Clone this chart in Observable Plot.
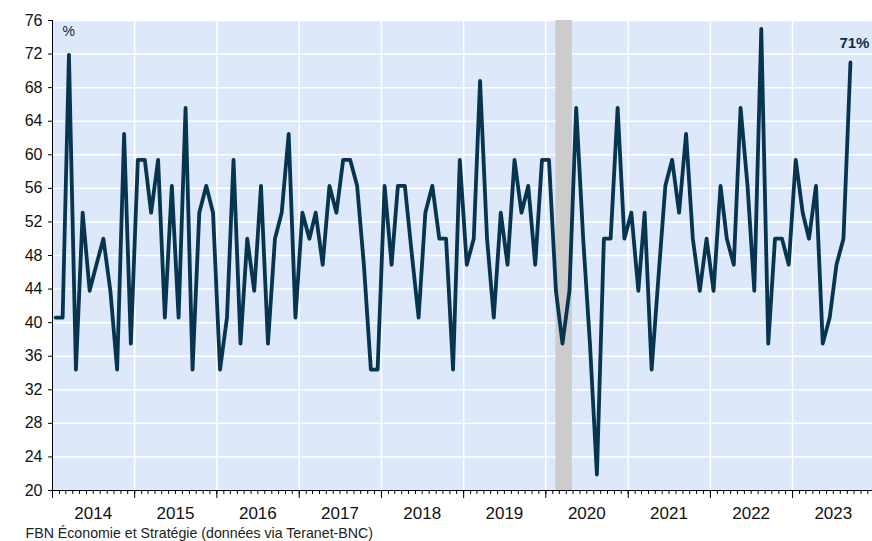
<!DOCTYPE html>
<html><head><meta charset="utf-8">
<script src="https://cdn.jsdelivr.net/npm/d3@7"></script>
<script src="https://cdn.jsdelivr.net/npm/@observablehq/plot@0.6"></script>
<style>body{margin:0;background:#fff} svg{display:block}</style>
</head><body><div id="chart"></div>
<script>
// Monthly series, Jan 2014 – Sep 2023 (% of markets)
const startYear = 2014;
const values = [
  40.6, 40.6, 71.9, 34.4, 53.1, 43.8, 46.9, 50.0, 43.8, 34.4, 62.5, 37.5,
  59.4, 59.4, 53.1, 59.4, 40.6, 56.3, 40.6, 65.6, 34.4, 53.1, 56.3, 53.1,
  34.4, 40.6, 59.4, 37.5, 50.0, 43.8, 56.3, 37.5, 50.0, 53.1, 62.5, 40.6,
  53.1, 50.0, 53.1, 46.9, 56.3, 53.1, 59.4, 59.4, 56.3, 46.9, 34.4, 34.4,
  56.3, 46.9, 56.3, 56.3, 48.4, 40.6, 53.1, 56.3, 50.0, 50.0, 34.4, 59.4,
  46.9, 50.0, 68.8, 50.0, 40.6, 53.1, 46.9, 59.4, 53.1, 56.3, 46.9, 59.4,
  59.4, 43.8, 37.5, 43.8, 65.6, 50.0, 37.5, 21.9, 50.0, 50.0, 65.6, 50.0,
  53.1, 43.8, 53.1, 34.4, 45.3, 56.3, 59.4, 53.1, 62.5, 50.0, 43.8, 50.0,
  43.8, 56.3, 50.0, 46.9, 65.6, 56.3, 43.8, 75.0, 37.5, 50.0, 50.0, 46.9,
  59.4, 53.1, 50.0, 56.3, 37.5, 40.6, 46.9, 50.0, 71.0
];
const yTicks = [20, 24, 28, 32, 36, 40, 44, 48, 52, 56, 60, 64, 68, 72, 76];
const yearLabels = [2014, 2015, 2016, 2017, 2018, 2019, 2020, 2021, 2022, 2023];
const recession = [{start: "2020-02-15", end: "2020-04-28"}];
const lastLabel = "71%";
const unitLabel = "%";
const source = "FBN Économie et Stratégie (données via Teranet-BNC)";

const data = values.map((v, i) => ({date: new Date(Date.UTC(startYear, i, 15)), value: v}));
const yearStarts = yearLabels.map(y => new Date(Date.UTC(y, 0, 1)));
const yearMids = yearLabels.map(y => new Date(Date.UTC(y, 6, 1)));
const x0 = new Date(Date.UTC(2014, 0, 1));
const x1 = new Date(Date.UTC(2023, 11, 22));
const months = d3.utcMonth.range(x0, x1);
const ink = "#07344f";

const plot = Plot.plot({
  width: 872, height: 541,
  marginLeft: 52, marginRight: 0, marginTop: 20, marginBottom: 51,
  style: {fontFamily: "'Liberation Sans', Arial, sans-serif", background: "#fff", color: "#111"},
  x: {type: "utc", domain: [x0, x1]},
  y: {domain: [20, 76]},
  marks: [
    Plot.frame({fill: "#dde9fb", stroke: null}),
    Plot.ruleY(yTicks, {stroke: "white", strokeWidth: 1.5}),
    Plot.ruleX(yearStarts.slice(1), {stroke: "white", strokeWidth: 1.5}),
    Plot.rect(recession, {x1: d => new Date(d.start), x2: d => new Date(d.end), fill: "#cccccc"}),
    Plot.lineY(data, {x: "date", y: "value", stroke: ink, strokeWidth: 3.8}),
    Plot.ruleX([x0], {stroke: "black", strokeWidth: 1}),
    Plot.ruleY([20], {stroke: "black", strokeWidth: 1}),
    Plot.axisY({ticks: yTicks, tickSize: 4, tickPadding: 6, fontSize: 16, label: null, stroke: "black"}),
    Plot.axisX({ticks: months, tickSize: 4, tickFormat: () => "", label: null, stroke: "black"}),
    Plot.axisX({ticks: yearStarts, tickSize: 8, tickFormat: () => "", label: null, stroke: "black"}),
    Plot.axisX({ticks: yearMids, tickSize: 0, tickPadding: 16, tickFormat: d3.utcFormat("%Y"), fontSize: 17, label: null}),
    Plot.text([unitLabel], {frameAnchor: "top-left", lineAnchor: "middle", dx: 10, dy: 11, fontSize: 14, fill: "#222"}),
    Plot.text([data[data.length - 1]], {x: "date", y: "value", text: () => lastLabel, dy: -19, dx: 4, fontWeight: "bold", fontSize: 15, fill: "#0d2f4a"}),
    Plot.text([source], {frameAnchor: "bottom-left", lineAnchor: "middle", dx: -27, dy: 43, fontSize: 14.2, fill: "#222"})
  ]
});
document.getElementById("chart").appendChild(plot);
</script>
</body></html>
